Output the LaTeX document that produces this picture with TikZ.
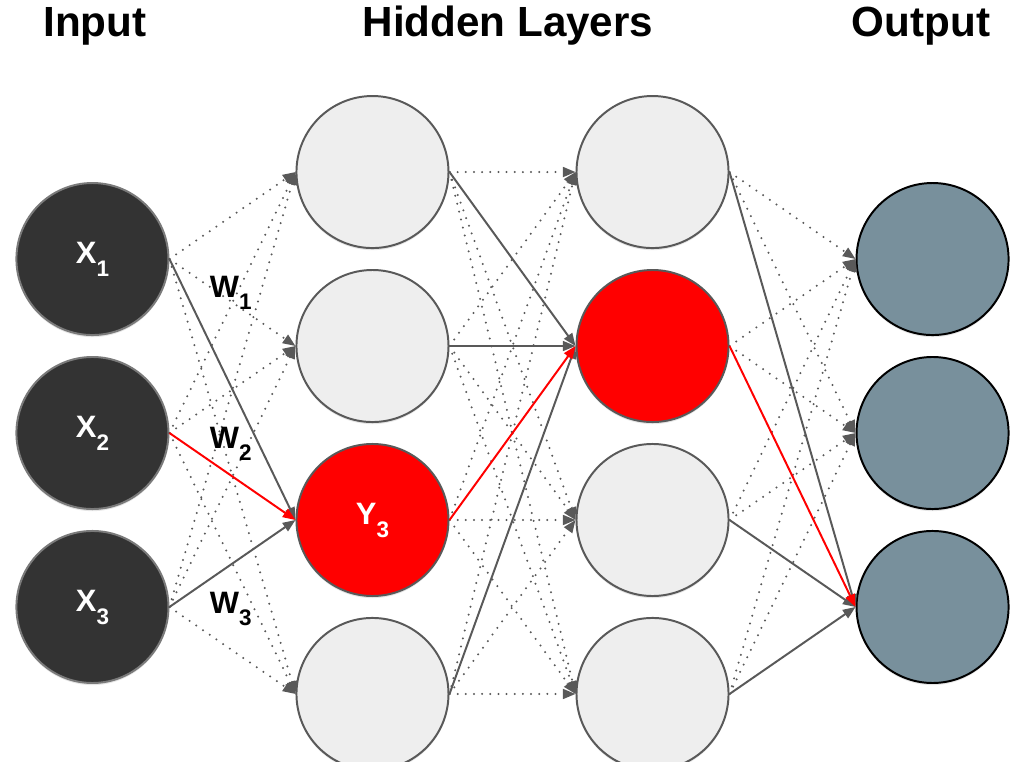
\documentclass[tikz,border=0pt]{standalone}
\usepackage{fontspec}
\setmainfont{Liberation Sans}
\usepackage{tikz}
\usetikzlibrary{positioning}
\usetikzlibrary{arrows.meta}
\usetikzlibrary{shadows}

\definecolor{linegray}{HTML}{595959}
\definecolor{inputfill}{HTML}{333333}
\definecolor{hiddenfill}{HTML}{EEEEEE}
\definecolor{outputfill}{HTML}{78909C}

% lowered index as in the labels
\newcommand{\lowidx}[1]{\raisebox{-0.42em}{\fontsize{16}{18}\selectfont #1}}

\tikzset{
    neuron/.style={shape=circle, minimum size=3.8cm, line width=1.4pt,
        drop shadow={shadow xshift=0pt, shadow yshift=-1.5pt, opacity=0.2},
        font=\fontsize{22}{26}\selectfont\bfseries},
    innode/.style={neuron, draw=linegray!80, fill=inputfill, text=white},
    hidnode/.style={neuron, draw=linegray, fill=hiddenfill},
    hotnode/.style={neuron, draw=linegray, fill=red, text=white},
    outnode/.style={neuron, draw=black, fill=outputfill},
    weak/.style={draw=linegray, line width=1.6pt, line cap=round,
        dash pattern=on 0pt off 5.8pt, -{Triangle[length=9pt, width=7pt]}},
    strong/.style={draw=linegray, line width=1.4pt, -{Triangle[length=9pt, width=7pt]}},
    active/.style={draw=red, line width=1.4pt, -{Triangle[length=9pt, width=7pt]}},
    title/.style={anchor=base, font=\fontsize{30}{36}\selectfont\bfseries},
    weight/.style={anchor=base west, font=\fontsize{22}{26}\selectfont\bfseries}
}

\begin{document}
\begin{tikzpicture}[x=0.025cm, y=-0.025cm]
    \useasboundingbox (0,0) rectangle (1012,762);

    \node[title] (tin) at (95,37) {Input};
    \node[title] (thid) at (508,37) {Hidden Layers};
    \node[title] (tout) at (921,37) {Output};

    \matrix[column sep=3.15cm, row sep=-1.675cm] at (512.5,433) {
        & \node[hidnode](A1){}; & \node[hidnode](B1){}; & \\
        \node[innode](X1){X\lowidx{1}}; & & &
        \node[outnode](O1){}; \\
        & \node[hidnode](A2){}; & \node[hotnode](B2){}; & \\
        \node[innode](X2){X\lowidx{2}}; & & &
        \node[outnode](O2){}; \\
        & \node[hotnode](A3){Y\lowidx{3}}; & \node[hidnode](B3){}; & \\
        \node[innode](X3){X\lowidx{3}}; & & &
        \node[outnode](O3){}; \\
        & \node[hidnode](A4){}; & \node[hidnode](B4){}; & \\
    };

    % input -> first hidden layer
    \draw[weak] (X1.east) -- (A1.west);
    \draw[weak] (X1.east) -- (A2.west);
    \draw[weak] (X1.east) -- (A4.west);
    \draw[weak] (X2.east) -- (A1.west);
    \draw[weak] (X2.east) -- (A2.west);
    \draw[weak] (X2.east) -- (A4.west);
    \draw[weak] (X3.east) -- (A1.west);
    \draw[weak] (X3.east) -- (A2.west);
    \draw[weak] (X3.east) -- (A4.west);
    \draw[strong] (X1.east) -- (A3.west);
    \draw[strong] (X3.east) -- (A3.west);
    \draw[active] (X2.east) -- (A3.west);

    % first -> second hidden layer
    \draw[weak] (A1.east) -- (B1.west);
    \draw[weak] (A1.east) -- (B3.west);
    \draw[weak] (A1.east) -- (B4.west);
    \draw[weak] (A2.east) -- (B1.west);
    \draw[weak] (A2.east) -- (B3.west);
    \draw[weak] (A2.east) -- (B4.west);
    \draw[weak] (A3.east) -- (B1.west);
    \draw[weak] (A3.east) -- (B3.west);
    \draw[weak] (A3.east) -- (B4.west);
    \draw[weak] (A4.east) -- (B1.west);
    \draw[weak] (A4.east) -- (B3.west);
    \draw[weak] (A4.east) -- (B4.west);
    \draw[strong] (A1.east) -- (B2.west);
    \draw[strong] (A2.east) -- (B2.west);
    \draw[strong] (A4.east) -- (B2.west);
    \draw[active] (A3.east) -- (B2.west);

    % second hidden layer -> output
    \draw[weak] (B1.east) -- (O1.west);
    \draw[weak] (B1.east) -- (O2.west);
    \draw[weak] (B2.east) -- (O1.west);
    \draw[weak] (B2.east) -- (O2.west);
    \draw[weak] (B3.east) -- (O1.west);
    \draw[weak] (B3.east) -- (O2.west);
    \draw[weak] (B4.east) -- (O1.west);
    \draw[weak] (B4.east) -- (O2.west);
    \draw[strong] (B1.east) -- (O3.west);
    \draw[strong] (B3.east) -- (O3.west);
    \draw[strong] (B4.east) -- (O3.west);
    \draw[active] (B2.east) -- (O3.west);

    \node[weight] (w1) at (205,297) {W\lowidx{1}};
    \node[weight] (w2) at (205,448) {W\lowidx{2}};
    \node[weight] (w3) at (205,613) {W\lowidx{3}};
\end{tikzpicture}
\end{document}
